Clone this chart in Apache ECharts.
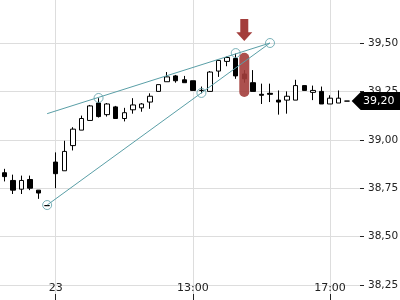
<!DOCTYPE html>
<html>
<head>
<meta charset="utf-8">
<script src="https://cdn.jsdelivr.net/npm/echarts@6/dist/echarts.min.js"></script>
<style>html,body{margin:0;padding:0;background:#fff}#c{width:400px;height:300px}</style>
</head>
<body>
<div id="c"></div>
<script>
// 15-minute candles: end of day 22, then day 23
const categories = [
  '22 16:15','22 16:30','22 16:45','22 17:00','22 17:15','22 17:30',
  '23 09:00','23 09:15','23 09:30','23 09:45','23 10:00','23 10:15','23 10:30','23 10:45',
  '23 11:00','23 11:15','23 11:30','23 11:45','23 12:00','23 12:15','23 12:30','23 12:45',
  '23 13:00','23 13:15','23 13:30','23 13:45','23 14:00','23 14:15','23 14:30','23 14:45',
  '23 15:00','23 15:15','23 15:30','23 15:45','23 16:00','23 16:15','23 16:30','23 16:45',
  '23 17:00','23 17:15','23 17:30',''
];
const tickCategories = ['23 09:00','23 13:00','23 17:00'];
const tickLabels = ['23','13:00','17:00'];

// [open, close, low, high]
const ohlc = [
  [38.83,38.81,38.785,38.85],
  [38.79,38.74,38.72,38.82],
  [38.745,38.79,38.72,38.815],
  [38.795,38.75,38.74,38.815],
  [38.74,38.725,38.695,38.74],
  [38.66,38.66,38.66,38.66],
  [38.885,38.825,38.75,38.935],
  [38.84,38.94,38.84,38.995],
  [38.97,39.055,38.945,39.065],
  [39.05,39.11,39.05,39.125],
  [39.10,39.175,39.10,39.18],
  [39.19,39.12,39.115,39.215],
  [39.13,39.185,39.12,39.19],
  [39.17,39.11,39.11,39.175],
  [39.11,39.14,39.095,39.165],
  [39.155,39.18,39.135,39.215],
  [39.165,39.185,39.145,39.19],
  [39.195,39.225,39.16,39.24],
  [39.25,39.285,39.25,39.285],
  [39.30,39.325,39.30,39.35],
  [39.33,39.305,39.295,39.335],
  [39.31,39.295,39.295,39.33],
  [39.305,39.255,39.255,39.305],
  [39.255,39.255,39.24,39.275],
  [39.25,39.35,39.25,39.355],
  [39.355,39.41,39.325,39.41],
  [39.405,39.425,39.38,39.43],
  [39.42,39.33,39.315,39.445],
  [39.34,39.315,39.295,39.36],
  [39.295,39.25,39.25,39.36],
  [39.235,39.23,39.185,39.29],
  [39.24,39.235,39.195,39.29],
  [39.205,39.195,39.13,39.255],
  [39.205,39.225,39.135,39.25],
  [39.205,39.28,39.205,39.31],
  [39.28,39.255,39.255,39.28],
  [39.245,39.255,39.205,39.28],
  [39.25,39.185,39.185,39.275],
  [39.185,39.215,39.185,39.23],
  [39.19,39.215,39.19,39.255],
  [39.20,39.20,39.20,39.20]
];
const lastPrice = 39.20;

// trend lines: [categoryIndex, price]
const upperLine = [[5, 39.135], [31, 39.5]];
const lowerLine = [[5, 38.663], [31, 39.5]];
const anchorPoints = [[5, 38.663], [11, 39.216], [23, 39.242], [27, 39.448], [31, 39.5]];
// highlight capsule [index, low, high] and arrow [index, tip, tail]
const highlight = [[28, 39.221, 39.45]];
const arrow = [[28, 39.51, 39.624]];

const yTicks = [38.25, 38.5, 38.75, 39.0, 39.25, 39.5];

const teal = '#5a9fa7';
const red = '#a33d3b';
const font = 'DejaVu Sans';
const fmt = v => v.toFixed(2).replace('.', ',');
const isTick = idx => tickCategories.indexOf(categories[idx]) >= 0;

const chart = echarts.init(document.getElementById('c'), null, {renderer: 'canvas'});
chart.setOption({
  animation: false,
  backgroundColor: '#fff',
  grid: {left: 0, right: 40, top: -53.8, bottom: -33.4, containLabel: false, outerBoundsMode: 'none'},
  xAxis: {
    type: 'category',
    data: categories,
    boundaryGap: true,
    offset: -33.4,
    axisLine: {show: false},
    axisTick: {show: true, inside: true, length: 6, alignWithLabel: true, interval: isTick, lineStyle: {color: '#222'}},
    axisLabel: {
      show: true, inside: true, margin: 6, interval: isTick,
      color: '#222', fontSize: 11, fontFamily: font,
      formatter: v => { const i = tickCategories.indexOf(v); return i >= 0 ? tickLabels[i] : ''; }
    },
    splitLine: {show: true, alignWithLabel: true, interval: isTick, lineStyle: {color: '#dddddd', width: 1}}
  },
  yAxis: {
    type: 'value',
    position: 'right',
    min: 38.0, max: 40.0, interval: 0.25,
    scale: true,
    axisLine: {show: false},
    axisTick: {show: true, length: 4, lineStyle: {color: '#222'}},
    axisLabel: {
      margin: 8, color: '#222', fontSize: 10.5, fontFamily: font,
      formatter: v => yTicks.some(t => Math.abs(t - v) < 1e-6) ? fmt(v) : ''
    },
    splitLine: {show: true, lineStyle: {color: '#dddddd', width: 1}}
  },
  series: [
    {
      type: 'candlestick',
      data: ohlc,
      barWidth: 5,
      z: 3,
      itemStyle: {
        color: '#ffffff', color0: '#000000',
        borderColor: '#000000', borderColor0: '#000000', borderColorDoji: '#000000',
        borderWidth: 1
      },
      markPoint: {
        silent: true,
        symbol: 'path://M0,9 L9,0 L60,0 L60,18 L9,18 Z',
        symbolSize: [60, 18],
        symbolKeepAspect: false,
        symbolOffset: [26, 0],
        itemStyle: {color: '#000'},
        label: {show: true, position: 'inside', offset: [-3, 0], color: '#fff', fontSize: 11, fontFamily: font, formatter: p => fmt(p.value)},
        data: [{coord: [41, lastPrice], value: lastPrice}]
      }
    },
    {
      type: 'custom',
      data: highlight,
      z: 4,
      encode: {x: 0, y: [1, 2]},
      renderItem: (params, api) => {
        const top = api.coord([api.value(0), api.value(2)]);
        const bot = api.coord([api.value(0), api.value(1)]);
        const w = 10;
        return {type: 'rect', shape: {x: top[0] - w / 2, y: top[1], width: w, height: bot[1] - top[1], r: w / 2}, style: {fill: red, opacity: 0.9}};
      }
    },
    {
      type: 'custom',
      data: arrow,
      z: 4,
      encode: {x: 0, y: [1, 2]},
      renderItem: (params, api) => {
        const tip = api.coord([api.value(0), api.value(1)]);
        const tail = api.coord([api.value(0), api.value(2)]);
        const h = tip[1] - tail[1];
        const j = tail[1] + h * 0.6;
        const x = tip[0];
        return {type: 'polygon', shape: {points: [[x - 4, tail[1]], [x + 4, tail[1]], [x + 4, j], [x + 8, j], [x, tip[1]], [x - 8, j], [x - 4, j]]}, style: {fill: red}};
      }
    },
    {type: 'line', data: upperLine, z: 5, showSymbol: false, silent: true, lineStyle: {color: teal, width: 1}},
    {type: 'line', data: lowerLine, z: 5, showSymbol: false, silent: true, lineStyle: {color: teal, width: 1}},
    {
      type: 'scatter', data: anchorPoints, z: 6, symbol: 'circle', symbolSize: 9, silent: true,
      itemStyle: {color: 'rgba(0,0,0,0)', borderColor: teal, borderWidth: 1}
    }
  ]
});
</script>
</body>
</html>
